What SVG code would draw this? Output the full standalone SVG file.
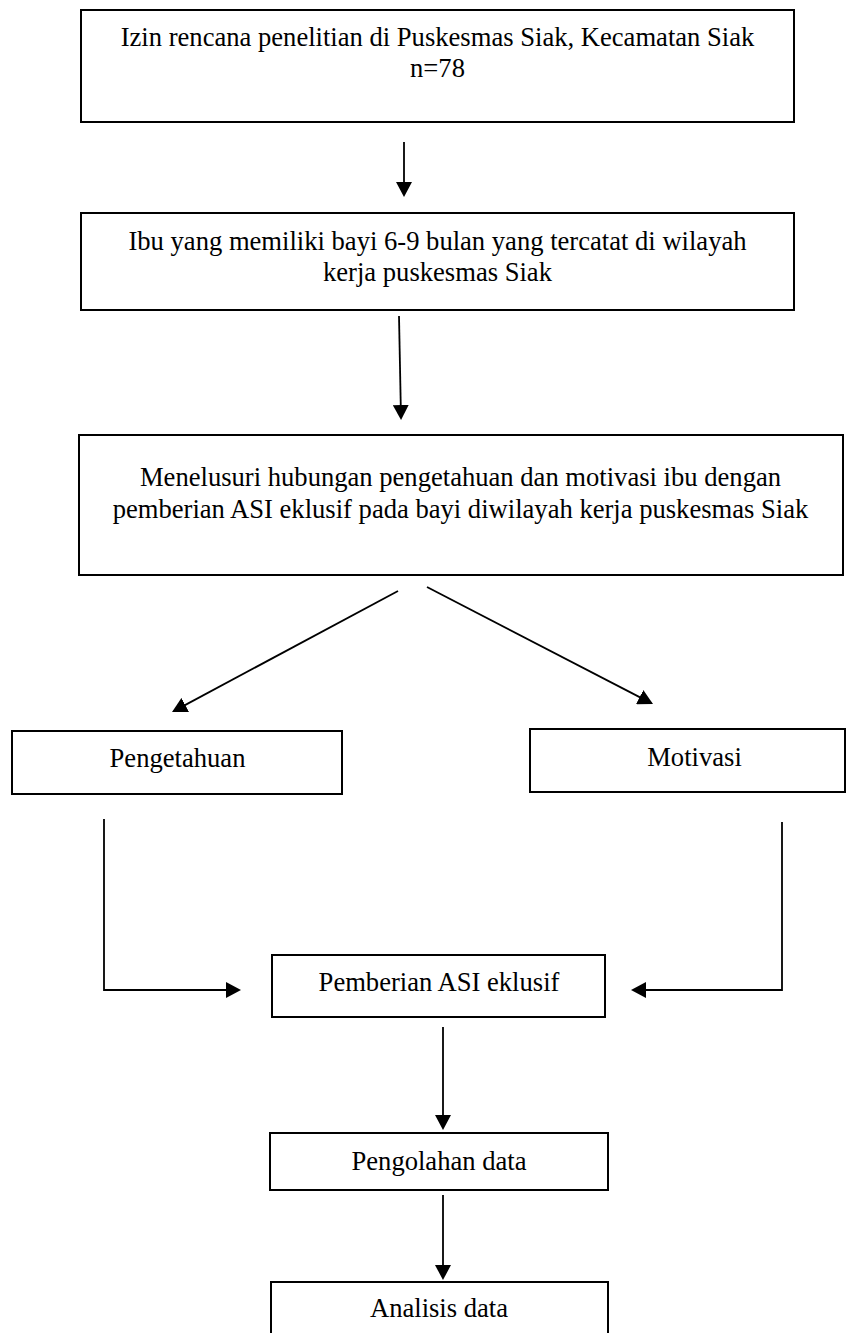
<svg xmlns="http://www.w3.org/2000/svg" width="848" height="1333" viewBox="0 0 848 1333">
  <style>
    .box { fill: #ffffff; stroke: #000000; stroke-width: 2; }
    .lbl { font-family: "Liberation Serif", "Times New Roman", serif; font-size: 26.6px; fill: #000000; text-anchor: middle; }
    .edge { fill: none; stroke: #000000; stroke-width: 1.8; marker-end: url(#head); }
  </style>
  <defs>
    <marker id="head" markerUnits="userSpaceOnUse" markerWidth="16" markerHeight="16" refX="13" refY="8" orient="auto">
      <path d="M0,0 L15,8 L0,16 Z" fill="#000000"/>
    </marker>
  </defs>
  <rect width="848" height="1333" fill="#ffffff"/>

  <g id="izin">
    <rect class="box" x="81" y="10" width="713" height="112"/>
    <text class="lbl" x="437.5" y="46">Izin rencana penelitian di Puskesmas Siak, Kecamatan Siak</text>
    <text class="lbl" x="437.5" y="77">n=78</text>
  </g>

  <g id="ibu">
    <rect class="box" x="81" y="213" width="713" height="97"/>
    <text class="lbl" x="437.5" y="250">Ibu yang memiliki bayi 6-9 bulan yang tercatat di wilayah</text>
    <text class="lbl" x="437.5" y="281">kerja puskesmas Siak</text>
  </g>

  <g id="menelusuri">
    <rect class="box" x="79" y="435" width="764" height="140"/>
    <text class="lbl" x="460.5" y="486">Menelusuri hubungan pengetahuan dan motivasi ibu dengan</text>
    <text class="lbl" x="460.5" y="518">pemberian ASI eklusif pada bayi diwilayah kerja puskesmas Siak</text>
  </g>

  <g id="pengetahuan">
    <rect class="box" x="12" y="731" width="330" height="63"/>
    <text class="lbl" x="177.5" y="767">Pengetahuan</text>
  </g>

  <g id="motivasi">
    <rect class="box" x="530" y="729" width="315" height="63"/>
    <text class="lbl" x="694.5" y="766">Motivasi</text>
  </g>

  <g id="asi">
    <rect class="box" x="272" y="955" width="333" height="62"/>
    <text class="lbl" x="439" y="991">Pemberian ASI eklusif</text>
  </g>

  <g id="pengolahan">
    <rect class="box" x="270" y="1133" width="338" height="57"/>
    <text class="lbl" x="439" y="1170">Pengolahan data</text>
  </g>

  <g id="analisis">
    <rect class="box" x="271" y="1282" width="337" height="60"/>
    <text class="lbl" x="439" y="1317">Analisis data</text>
  </g>

  <g id="connectors">
    <line class="edge" x1="404" y1="142" x2="404" y2="195"/>
    <line class="edge" x1="399" y1="316" x2="401" y2="418"/>
    <line class="edge" x1="398" y1="591" x2="173.8" y2="711.1"/>
    <line class="edge" x1="427" y1="587" x2="651.2" y2="703.1"/>
    <polyline class="edge" points="104,819 104,990 239,990"/>
    <polyline class="edge" points="782,822 782,990 633,990"/>
    <line class="edge" x1="443" y1="1027" x2="443" y2="1128"/>
    <line class="edge" x1="443" y1="1195" x2="443" y2="1278"/>
  </g>
</svg>
